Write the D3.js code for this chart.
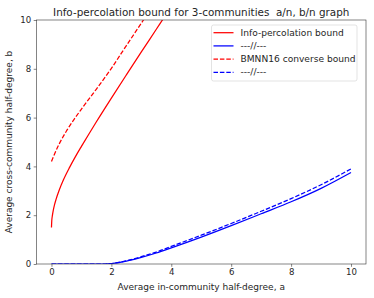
<!DOCTYPE html>
<html>
<head>
<meta charset="utf-8">
<script src="https://cdn.jsdelivr.net/npm/d3@7"></script>
<style>
  body { margin: 0; background: #fff; }
  text { font-family: "DejaVu Sans", sans-serif; fill: #262626; }
</style>
</head>
<body>
<svg id="chart"></svg>
<script>
const width = 374;
const height = 298;

const margin = {top: 20, right: 8, bottom: 34, left: 36.5};

// Curves: x is a, y is b
const infoRedX = [0, 0.01, 0.03, 0.06, 0.1, 0.15, 0.25, 0.4, 0.6, 0.8, 1.0, 1.25, 1.5, 2.0, 2.5, 3.0, 3.5, 3.73, 4.0];
const infoRedY = [1.5, 1.78, 1.98, 2.2, 2.42, 2.64, 3.0, 3.45, 3.95, 4.4, 4.82, 5.33, 5.83, 6.8, 7.75, 8.69, 9.62, 10.05, 10.55];

const bmnnRedX = [0, 0.1, 0.25, 0.5, 0.75, 1.0, 1.5, 2.0, 2.5, 3.07, 3.5];
const bmnnRedY = [4.2, 4.5, 4.9, 5.45, 5.92, 6.35, 7.17, 8.02, 8.95, 10.0, 10.8];

const infoBlueX = [0, 1, 1.8, 2, 2.5, 3, 3.5, 4, 5, 6, 7, 8, 9, 10];
const infoBlueY = [0, 0, 0, 0.02, 0.12, 0.27, 0.45, 0.66, 1.1, 1.57, 2.06, 2.55, 3.1, 3.75];

const bmnnBlueX = [0, 1, 1.8, 2, 2.5, 3, 3.5, 4, 5, 6, 7, 8, 9, 10];
const bmnnBlueY = [0, 0, 0, 0.02, 0.13, 0.3, 0.49, 0.72, 1.18, 1.66, 2.16, 2.68, 3.25, 3.9];

const xTicks = [0, 2, 4, 6, 8, 10];
const yTicks = [0, 2, 4, 6, 8, 10];

const legendLabels = ["Info-percolation bound", "---//---", "BMNN16 converse bound", "---//---"];
const legendColors = ["#ff0000", "#0000ff", "#ff0000", "#0000ff"];
const legendDashed = [false, false, true, true];

const titleText = "Info-percolation bound for 3-communities  a/n, b/n graph";
const xLabel = "Average in-community half-degree, a";
const yLabel = "Average cross-community half-degree, b";

const svg = d3.select("#chart")
    .attr("width", width)
    .attr("height", height);

const x = d3.scaleLinear()
    .domain([-0.5, 10.5])
    .range([margin.left, width - margin.right]);

const y = d3.scaleLinear()
    .domain([0, 10])
    .range([height - margin.bottom, margin.top]);

const lineWidth = 1.25;
const dash = "4.5,1.9";

// clip so the red curves leave the axes like matplotlib does
svg.append("clipPath").attr("id", "plotclip")
    .append("rect")
    .attr("x", x.range()[0])
    .attr("y", y.range()[1])
    .attr("width", x.range()[1] - x.range()[0])
    .attr("height", y.range()[0] - y.range()[1]);

let line = d3.line()
    .x(d => x(d[0]))
    .y(d => y(d[1]))
    .curve(d3.curveMonotoneX);

let drawCurve = (xs, ys, color, dashed) =>
{
    let pts = xs.map((v, i) => [v, ys[i]]);
    svg.append("path")
        .datum(pts)
        .attr("clip-path", "url(#plotclip)")
        .attr("d", line)
        .style("fill", "none")
        .style("stroke", color)
        .style("stroke-width", lineWidth)
        .style("stroke-dasharray", dashed ? dash : null);
}

drawCurve(infoRedX, infoRedY, "#ff0000", false);
drawCurve(infoBlueX, infoBlueY, "#0000ff", false);
drawCurve(bmnnRedX, bmnnRedY, "#ff0000", true);
drawCurve(bmnnBlueX, bmnnBlueY, "#0000ff", true);

// Axes
let xAxis = d3.axisBottom(x).tickValues(xTicks).tickSize(2.8).tickPadding(2.5);
let yAxis = d3.axisLeft(y).tickValues(yTicks).tickSize(2.8).tickPadding(2.5);

let gx = svg.append("g")
    .attr("transform", `translate(0,${y.range()[0]})`)
    .call(xAxis);
let gy = svg.append("g")
    .attr("transform", `translate(${x.range()[0]},0)`)
    .call(yAxis);

[gx, gy].forEach(g =>
{
    g.select(".domain").remove();
    g.selectAll(".tick line").style("stroke", "#333").style("stroke-width", 0.6);
    g.selectAll(".tick text").style("font-size", "8.6px").style("fill", "#262626");
});

// Spines
svg.append("rect")
    .attr("x", x.range()[0])
    .attr("y", y.range()[1])
    .attr("width", x.range()[1] - x.range()[0])
    .attr("height", y.range()[0] - y.range()[1])
    .style("fill", "none")
    .style("stroke", "#333")
    .style("stroke-width", 0.6);

// Title and labels
svg.append("text")
    .attr("x", (x.range()[0] + x.range()[1]) / 2)
    .attr("y", 15.5)
    .attr("text-anchor", "middle")
    .style("font-size", "10.4px")
    .style("white-space", "pre")
    .text(titleText);

svg.append("text")
    .attr("x", (x.range()[0] + x.range()[1]) / 2)
    .attr("y", 290)
    .attr("text-anchor", "middle")
    .style("font-size", "9px")
    .text(xLabel);

svg.append("text")
    .attr("transform", `translate(12,${(y.range()[0] + y.range()[1]) / 2}) rotate(-90)`)
    .attr("text-anchor", "middle")
    .style("font-size", "9px")
    .text(yLabel);

// Legend
let legend = svg.append("g");
legend.append("rect")
    .attr("x", 211.5)
    .attr("y", 25)
    .attr("width", 145.5)
    .attr("height", 56)
    .attr("rx", 2)
    .style("fill", "#fff")
    .style("fill-opacity", 0.8)
    .style("stroke", "#d0d0d0")
    .style("stroke-width", 0.6);

legendLabels.forEach((label, i) =>
{
    let ly = 32.7 + i * 13.2;
    legend.append("line")
        .attr("x1", 213.5)
        .attr("x2", 233.5)
        .attr("y1", ly)
        .attr("y2", ly)
        .style("stroke", legendColors[i])
        .style("stroke-width", lineWidth)
        .style("stroke-dasharray", legendDashed[i] ? dash : null);
    legend.append("text")
        .attr("x", 240.5)
        .attr("y", ly)
        .attr("dy", "0.35em")
        .style("font-size", "9.1px")
        .text(label);
});
</script>
</body>
</html>
